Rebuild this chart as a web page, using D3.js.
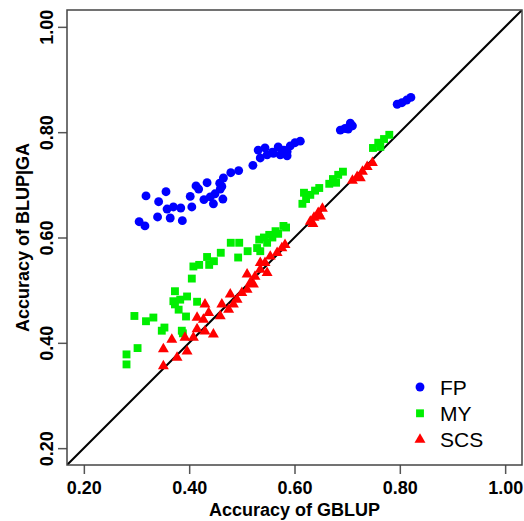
<!DOCTYPE html>
<html>
<head>
<meta charset="utf-8">
<script src="https://cdn.jsdelivr.net/npm/d3@7"></script>
<style>
  body { margin: 0; background: #fff; }
  svg { display: block; font-family: "Liberation Sans", Arial, sans-serif; }
</style>
</head>
<body>
<svg id="chart" width="524" height="521"></svg>
<script>
// accuracy values: [GBLUP, BLUP|GA]
const fpPoints = [
  [0.318, 0.679], [0.356, 0.687], [0.342, 0.668], [0.305, 0.630], [0.316, 0.622],
  [0.340, 0.639], [0.364, 0.637], [0.387, 0.632], [0.358, 0.654], [0.370, 0.658],
  [0.384, 0.656], [0.405, 0.658], [0.402, 0.678], [0.413, 0.698], [0.418, 0.692],
  [0.434, 0.704], [0.428, 0.672], [0.440, 0.677], [0.446, 0.664], [0.449, 0.683],
  [0.459, 0.692], [0.462, 0.697], [0.458, 0.703], [0.464, 0.673], [0.465, 0.713],
  [0.479, 0.723], [0.494, 0.727], [0.521, 0.737], [0.535, 0.751], [0.548, 0.757],
  [0.560, 0.760], [0.573, 0.757], [0.586, 0.763], [0.531, 0.766], [0.544, 0.770],
  [0.558, 0.762], [0.569, 0.772], [0.580, 0.766], [0.592, 0.774], [0.601, 0.780],
  [0.611, 0.783], [0.586, 0.755], [0.687, 0.804], [0.696, 0.807], [0.706, 0.817],
  [0.702, 0.806], [0.710, 0.812], [0.795, 0.853], [0.804, 0.856], [0.813, 0.861],
  [0.821, 0.866]
];
const myPoints = [
  [0.281, 0.378], [0.281, 0.359], [0.302, 0.390], [0.296, 0.451], [0.318, 0.441],
  [0.332, 0.448], [0.348, 0.423], [0.353, 0.429], [0.386, 0.423], [0.388, 0.418],
  [0.394, 0.450], [0.373, 0.498], [0.373, 0.473], [0.370, 0.479], [0.383, 0.482],
  [0.396, 0.488], [0.380, 0.463], [0.415, 0.478], [0.405, 0.522], [0.408, 0.545],
  [0.419, 0.548], [0.434, 0.563], [0.438, 0.548], [0.447, 0.555], [0.460, 0.571],
  [0.479, 0.590], [0.495, 0.590], [0.493, 0.562], [0.511, 0.574], [0.529, 0.580],
  [0.533, 0.596], [0.542, 0.600], [0.552, 0.605], [0.564, 0.612], [0.579, 0.622],
  [0.535, 0.574], [0.548, 0.590], [0.558, 0.600], [0.569, 0.607], [0.584, 0.619],
  [0.615, 0.664], [0.622, 0.673], [0.630, 0.681], [0.639, 0.689], [0.647, 0.694],
  [0.618, 0.685], [0.666, 0.702], [0.673, 0.711], [0.683, 0.719], [0.692, 0.725],
  [0.679, 0.704], [0.749, 0.770], [0.759, 0.780], [0.770, 0.787], [0.780, 0.795],
  [0.763, 0.772]
];
const scsPoints = [
  [0.351, 0.356], [0.351, 0.388], [0.367, 0.406], [0.377, 0.372], [0.392, 0.410],
  [0.396, 0.384], [0.408, 0.410], [0.415, 0.448], [0.430, 0.473], [0.427, 0.444],
  [0.430, 0.422], [0.446, 0.416], [0.459, 0.451], [0.462, 0.473], [0.478, 0.492],
  [0.475, 0.463], [0.491, 0.482], [0.500, 0.495], [0.510, 0.530], [0.516, 0.514],
  [0.525, 0.526], [0.535, 0.539], [0.535, 0.552], [0.544, 0.552], [0.554, 0.564],
  [0.567, 0.571], [0.576, 0.580], [0.582, 0.586], [0.522, 0.511], [0.548, 0.533],
  [0.510, 0.501], [0.415, 0.426], [0.437, 0.457], [0.484, 0.473], [0.630, 0.630],
  [0.637, 0.638], [0.645, 0.647], [0.653, 0.655], [0.635, 0.626], [0.649, 0.640],
  [0.710, 0.708], [0.719, 0.715], [0.729, 0.725], [0.738, 0.734], [0.748, 0.742],
  [0.725, 0.713]
];
const seriesNames = ["FP", "MY", "SCS"];
const tickValues = [0.2, 0.4, 0.6, 0.8, 1.0];
const axisDomain = [0.168, 1.032];

const series = [
  { name: seriesNames[0], points: fpPoints, color: "#0000ff", symbol: d3.symbolCircle, size: 62 },
  { name: seriesNames[1], points: myPoints, color: "#00ee00", symbol: d3.symbolSquare, size: 62 },
  { name: seriesNames[2], points: scsPoints, color: "#ff0000", symbol: d3.symbolTriangle, size: 52 }
];

const svg = d3.select("#chart");
const plot = { left: 67, right: 522, top: 10, bottom: 465 };

const x = d3.scaleLinear().domain(axisDomain).range([plot.left, plot.right]);
const y = d3.scaleLinear().domain(axisDomain).range([plot.bottom, plot.top]);

svg.append("defs").append("clipPath").attr("id", "plotClip")
  .append("rect")
  .attr("x", plot.left).attr("y", plot.top)
  .attr("width", plot.right - plot.left).attr("height", plot.bottom - plot.top);

// axes
const xAxis = svg.append("g")
  .attr("transform", `translate(0,${plot.bottom})`)
  .call(d3.axisBottom(x).tickValues(tickValues).tickFormat(d3.format(".2f")).tickSize(9).tickPadding(4));
const yAxis = svg.append("g")
  .attr("transform", `translate(${plot.left},0)`)
  .call(d3.axisLeft(y).tickValues(tickValues).tickFormat(d3.format(".2f")).tickSize(9).tickPadding(4));

[xAxis, yAxis].forEach(g => {
  g.select(".domain").remove();
  g.selectAll(".tick line").attr("stroke", "#555").attr("stroke-width", 1.5);
  g.selectAll(".tick text")
    .attr("fill", "#000")
    .style("font-size", "18px")
    .style("font-weight", "bold")
    .style("font-family", "'Liberation Sans', Arial, sans-serif");
});

xAxis.selectAll(".tick text").attr("dy", null).attr("y", 29);
yAxis.selectAll(".tick text")
  .attr("x", null).attr("dy", null)
  .attr("text-anchor", "middle")
  .attr("transform", "translate(-14,0) rotate(-90)");

// diagonal y = x
svg.append("line")
  .attr("clip-path", "url(#plotClip)")
  .attr("x1", x(axisDomain[0])).attr("y1", y(axisDomain[0]))
  .attr("x2", x(axisDomain[1])).attr("y2", y(axisDomain[1]))
  .attr("stroke", "#000")
  .attr("stroke-width", 2);

// points
series.forEach(s => {
  svg.append("g")
    .selectAll("path")
    .data(s.points)
    .join("path")
    .attr("transform", d => `translate(${x(d[0])},${y(d[1])})`)
    .attr("d", d3.symbol().type(s.symbol).size(s.size))
    .attr("fill", s.color);
});

// frame
svg.append("rect")
  .attr("x", plot.left).attr("y", plot.top)
  .attr("width", plot.right - plot.left).attr("height", plot.bottom - plot.top)
  .attr("fill", "none")
  .attr("stroke", "#444")
  .attr("stroke-width", 1.5);

// axis titles
svg.append("text")
  .attr("x", (plot.left + plot.right) / 2).attr("y", 516)
  .attr("text-anchor", "middle")
  .style("font-size", "18px").style("font-weight", "bold")
  .text("Accuracy of GBLUP");
svg.append("text")
  .attr("transform", `translate(29,${(plot.top + plot.bottom) / 2}) rotate(-90)`)
  .attr("text-anchor", "middle")
  .style("font-size", "18px").style("font-weight", "bold")
  .text("Accuracy of BLUP|GA");

// legend
const legend = svg.append("g").attr("transform", "translate(420,387)");
const item = legend.selectAll("g")
  .data(series)
  .join("g")
  .attr("transform", (d, i) => `translate(0,${i * 26.3})`);
item.append("path")
  .attr("d", d => d3.symbol().type(d.symbol).size(d.size)())
  .attr("fill", d => d.color);
item.append("text")
  .attr("x", 20).attr("y", 7.5)
  .style("font-size", "21px")
  .text(d => d.name);
</script>
</body>
</html>
